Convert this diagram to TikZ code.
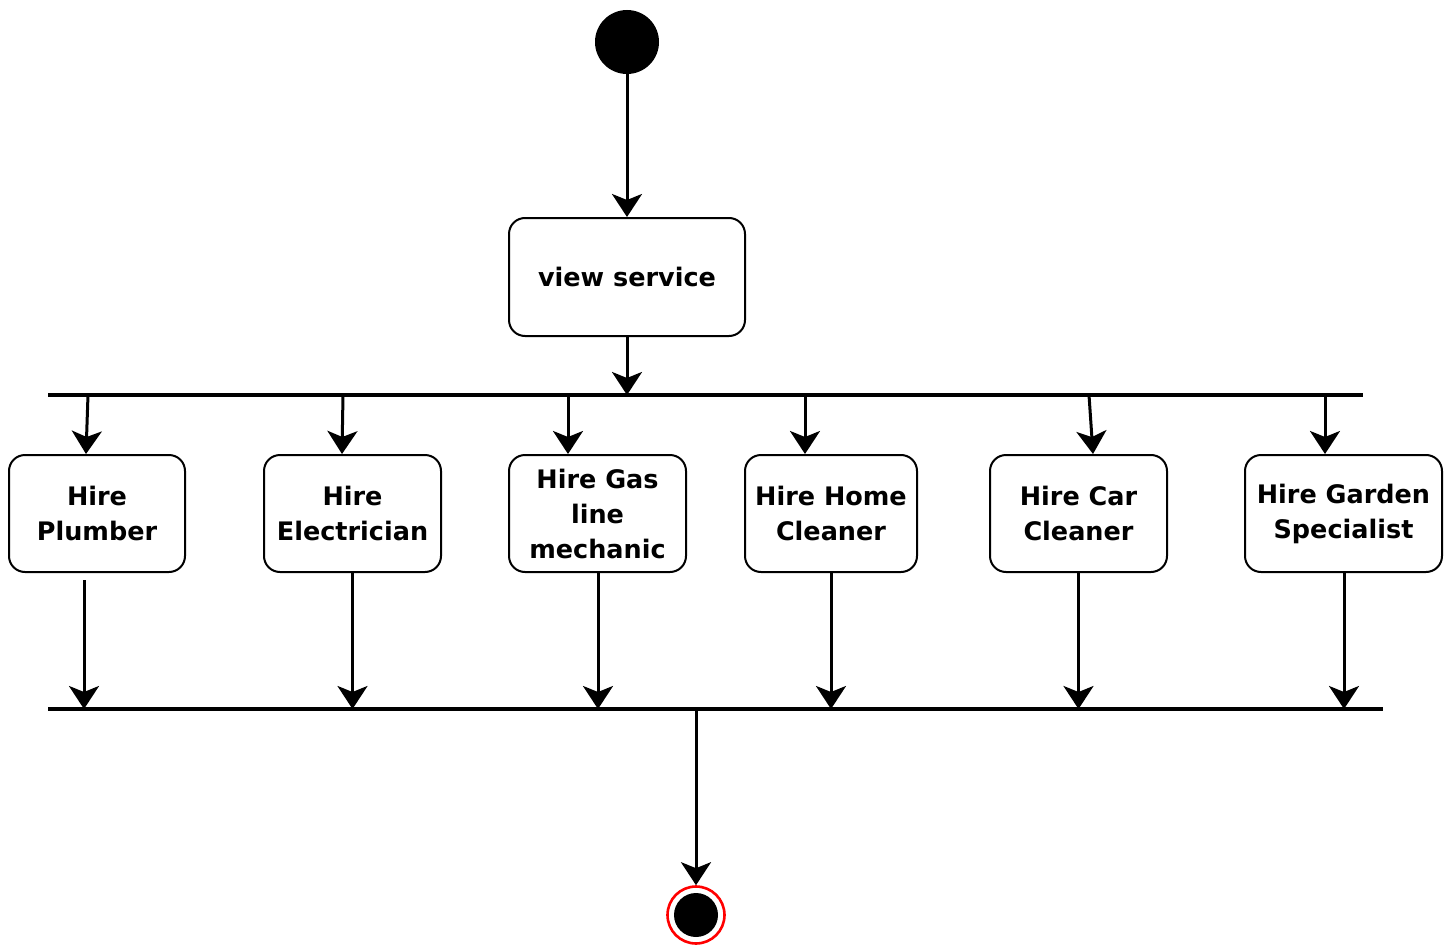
\documentclass[tikz,border=0pt]{standalone}
\usepackage{fontspec}
\setmainfont{DejaVu Sans}
\usetikzlibrary{arrows.meta}
\begin{document}
\begin{tikzpicture}[x=1pt,y=-1pt,
  action/.style={draw=black,line width=2pt,rounded corners=16pt,fill=white,
    align=center,inner sep=0pt,font=\fontsize{25.5}{35}\selectfont\bfseries},
  flow/.style={line width=3pt,-{Stealth[length=23pt,width=30pt,inset=6pt]}},
  bar/.style={line width=4pt}]
\useasboundingbox (0,0) rectangle (1448,947);

% initial and final states
\node[circle,fill=black,minimum size=64pt,inner sep=0pt] (start) at (627,42) {};
\node[circle,draw=red,line width=2.6pt,minimum size=57pt,inner sep=0pt] (stopring) at (696,915) {};
\node[circle,fill=black,minimum size=44pt,inner sep=0pt] (stop) at (696,915) {};

% actions
\node[action,minimum width=236pt,minimum height=118pt] (view) at (627,277) {view service};
\node[action,minimum width=176pt,minimum height=117pt] (plumber) at (97,513.5) {Hire\\Plumber};
\node[action,minimum width=177pt,minimum height=117pt] (elec) at (352.5,513.5) {Hire\\Electrician};
\node[action,minimum width=177pt,minimum height=117pt] (gas) at (597.5,513.5) {Hire Gas\\line\\mechanic};
\node[action,minimum width=172pt,minimum height=117pt] (home) at (831,513.5) {Hire Home\\Cleaner};
\node[action,minimum width=177pt,minimum height=117pt] (car) at (1078.5,513.5) {Hire Car\\Cleaner};
\node[action,minimum width=197pt,minimum height=117pt] (garden) at (1343.5,513.5) {Hire Garden\\Specialist};

% fork and join bars
\coordinate (forkL) at (48,395);
\coordinate (forkR) at (1363,395);
\coordinate (joinL) at (48,709);
\coordinate (joinR) at (1383,709);
\draw[bar] (forkL) -- (forkR);
\draw[bar] (joinL) -- (joinR);

% control flow
\draw[flow] (start) -- (view.north);
\draw[flow] (view.south) -- (627,395);

\draw[flow] (88,395) -- (plumber.north -| 86,0);
\draw[flow] (343,395) -- (elec.north -| 342,0);
\draw[flow] (568,395) -- (gas.north -| 568,0);
\draw[flow] (805,395) -- (home.north -| 805,0);
\draw[flow] (1089,395) -- (car.north -| 1093,0);
\draw[flow] (1325,395) -- (garden.north -| 1325,0);

\draw[flow] (84,580) -- (84,709);
\draw[flow] (elec.south) -- (352.5,709);
\draw[flow] (gas.south -| 598,0) -- (598,709);
\draw[flow] (home.south) -- (831,709);
\draw[flow] (car.south) -- (1078.5,709);
\draw[flow] (garden.south -| 1344,0) -- (1344,709);

\draw[flow] (696,709) -- (stopring.north);
\end{tikzpicture}
\end{document}
